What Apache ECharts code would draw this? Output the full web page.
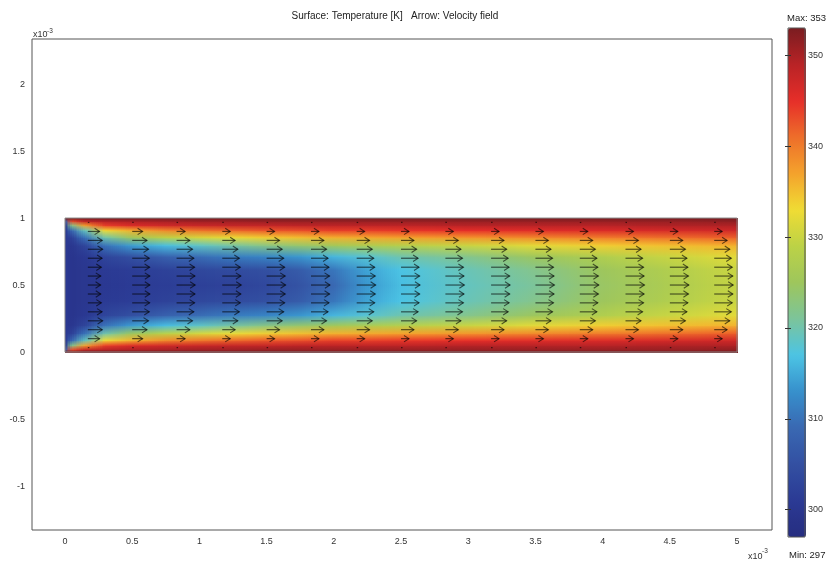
<!DOCTYPE html>
<html>
<head>
<meta charset="utf-8">
<script src="https://cdn.jsdelivr.net/npm/echarts@6/dist/echarts.min.js"></script>
<style>
  html, body { margin: 0; padding: 0; background: #fff; }
  #chart { width: 826px; height: 562px; }
</style>
</head>
<body>
<div id="chart"></div>
<script>
// axis ticks (x and y in units of 1e-3 m)
const xTicks = [0, 0.5, 1, 1.5, 2, 2.5, 3, 3.5, 4, 4.5, 5];
const yTicks = [-1, -0.5, 0, 0.5, 1, 1.5, 2];
const colorbarTicks = [300, 310, 320, 330, 340, 350];
const tMin = 297;
const tMax = 353;

const xStations = [0, 0.05, 0.15, 0.3, 0.5, 0.75, 1.0, 1.25, 1.5, 1.75, 2.0, 2.25, 2.5, 3.0, 3.5, 4.0, 4.5, 5.0];
const yStations = [0, 0.02, 0.05, 0.09, 0.14, 0.2, 0.28, 0.38, 0.5, 0.62, 0.72, 0.8, 0.86, 0.91, 0.95, 0.98, 1.0];

// temperature [K], one profile (bottom wall -> top wall) per x station
const temperatureProfiles = [
  [353, 308, 301, 300.5, 300.5, 300.5, 300.5, 300.5, 300.5, 300.5, 300.5, 300.5, 300.5, 300.5, 301, 308, 353],
  [353, 343, 322, 309, 302, 300, 299.5, 299.5, 299.5, 299.5, 299.5, 300, 302, 309, 322, 343, 353],
  [353, 348, 337, 319, 310, 303, 300.5, 300, 300, 300, 300.5, 303, 310, 319, 337, 348, 353],
  [353, 349, 344, 333, 320, 310, 303, 301, 300.5, 301, 303, 310, 320, 333, 344, 349, 353],
  [353, 349.5, 346, 336, 325, 314, 305, 301.5, 301, 301.5, 305, 314, 325, 336, 346, 349.5, 353],
  [353, 350, 347, 339, 329, 316.5, 308, 302.5, 301.5, 302.5, 308, 316.5, 329, 339, 347, 350, 353],
  [353, 350.5, 347.5, 340.5, 331, 318.5, 309.5, 303.5, 302, 303.5, 309.5, 318.5, 331, 340.5, 347.5, 350.5, 353],
  [353, 350.5, 348, 341.5, 332.5, 320.5, 311, 304, 302.5, 304, 311, 320.5, 332.5, 341.5, 348, 350.5, 353],
  [353, 351, 348, 342.5, 334, 322.5, 312, 305, 303.5, 305, 312, 322.5, 334, 342.5, 348, 351, 353],
  [353, 351, 348.5, 343, 335, 324, 313.5, 307, 305.5, 307, 313.5, 324, 335, 343, 348.5, 351, 353],
  [353, 351, 348.5, 344, 336, 325.5, 316, 310.5, 309, 310.5, 316, 325.5, 336, 344, 348.5, 351, 353],
  [353, 351, 348.5, 344, 336.5, 327, 318, 314.5, 313.5, 314.5, 318, 327, 336.5, 344, 348.5, 351, 353],
  [353, 351, 348.5, 344.5, 337, 328, 320, 317, 316.5, 317, 320, 328, 337, 344.5, 348.5, 351, 353],
  [353, 351, 349, 345, 338, 330, 322, 319.5, 319, 319.5, 322, 330, 338, 345, 349, 351, 353],
  [353, 351, 349, 345.5, 339, 332, 325, 322, 321, 322, 325, 332, 339, 345.5, 349, 351, 353],
  [353, 351, 349, 346, 340, 334, 327.5, 325, 324.5, 325, 327.5, 334, 340, 346, 349, 351, 353],
  [353, 351, 349.5, 346.5, 341, 335, 330, 327.5, 327, 327.5, 330, 335, 341, 346.5, 349.5, 351, 353],
  [353, 351.5, 349.5, 347, 342, 336, 332, 330, 329.5, 330, 332, 336, 342, 347, 349.5, 351.5, 353]
];

// velocity arrows: sample points and relative speed (bottom -> top)
const arrowX = [0.17, 0.5, 0.83, 1.17, 1.5, 1.83, 2.17, 2.5, 2.83, 3.17, 3.5, 3.83, 4.17, 4.5, 4.83];
const arrowY = [0.033, 0.1, 0.167, 0.233, 0.3, 0.367, 0.433, 0.5, 0.567, 0.633, 0.7, 0.767, 0.833, 0.9, 0.967];
const uInlet = [0.08, 0.62, 0.76, 0.78, 0.75, 0.71, 0.68, 0.67, 0.68, 0.71, 0.75, 0.78, 0.76, 0.62, 0.08];
const uSecond = [0.08, 0.55, 0.78, 0.86, 0.9, 0.92, 0.93, 0.93, 0.93, 0.92, 0.9, 0.86, 0.78, 0.55, 0.08];
const uThird = [0.08, 0.45, 0.7, 0.84, 0.91, 0.95, 0.97, 0.98, 0.97, 0.95, 0.91, 0.84, 0.7, 0.45, 0.08];
const uDeveloped = [0.08, 0.42, 0.68, 0.82, 0.9, 0.95, 0.98, 1.0, 0.98, 0.95, 0.9, 0.82, 0.68, 0.42, 0.08];
const arrowColumns = [uInlet, uSecond, uThird, uDeveloped, uDeveloped, uDeveloped, uDeveloped, uDeveloped,
  uDeveloped, uDeveloped, uDeveloped, uDeveloped, uDeveloped, uDeveloped, uDeveloped];
const arrowScale = 0.141; // data length of a unit arrow

const channelOutline = [[0, 0], [5, 0], [5, 1], [0, 1], [0, 0]];

const jetColors = ['#262d80', '#2b3a94', '#3350a2', '#3968b2', '#3790cc', '#4cc4e4', '#7cc49a',
  '#9ec65c', '#bcd246', '#f0dc34', '#f4a22c', '#ee6e2a', '#e62e29', '#b82326', '#7a1c20'];

const FONT = '"Liberation Sans", Arial, sans-serif';

const nY = yStations.length;
const cellData = [];
xStations.forEach((x, i) => {
  yStations.forEach((y, j) => {
    cellData.push([x, y, temperatureProfiles[i][j], i, j]);
  });
});

const arrowData = [];
arrowX.forEach((x, i) => {
  arrowY.forEach((y, j) => {
    arrowData.push([x, y, arrowColumns[i][j]]);
  });
});

// each node paints the cell up to its right/top neighbours, shaded between the four corner colours
function renderCell(params, api) {
  const i = api.value(3);
  const j = api.value(4);
  if (j >= nY - 1 || i >= xStations.length - 1) return null;
  const idx = params.dataIndexInside;
  const p0 = api.coord([xStations[i], yStations[j]]);
  const p1 = api.coord([xStations[i + 1], yStations[j + 1]]);
  const c00 = api.visual('color', idx);
  const c01 = api.visual('color', idx + 1);
  const c10 = api.visual('color', idx + nY);
  const c11 = api.visual('color', idx + nY + 1);
  const w = p1[0] - p0[0];
  const n = Math.max(1, Math.ceil(w / 2));
  const sw = w / n;
  const ya = Math.round(p1[1]);
  const yb = Math.round(p0[1]);
  const children = [];
  for (let k = 0; k < n; k++) {
    const t = (k + 0.5) / n;
    const xa = Math.round(p0[0] + k * sw);
    const xb = Math.round(p0[0] + (k + 1) * sw);
    if (xb <= xa) continue;
    children.push({
      type: 'rect',
      shape: { x: xa, y: ya, width: xb - xa + 1, height: yb - ya + 1 },
      style: {
        fill: new echarts.graphic.LinearGradient(0, 1, 0, 0, [
          { offset: 0, color: echarts.color.lerp(t, [c00, c10]) },
          { offset: 1, color: echarts.color.lerp(t, [c01, c11]) }
        ])
      }
    });
  }
  return { type: 'group', children: children };
}

function renderArrow(params, api) {
  const x = api.value(0);
  const y = api.value(1);
  const u = api.value(2);
  const p0 = api.coord([x, y]);
  const p1 = api.coord([x + u * arrowScale, y]);
  const stroke = 'rgba(0,0,0,0.6)';
  const children = [{
    type: 'line',
    shape: { x1: p0[0], y1: p0[1], x2: p1[0], y2: p1[1] },
    style: { stroke: stroke, lineWidth: 1.2 }
  }];
  if (p1[0] - p0[0] > 4) {
    children.push({
      type: 'polyline',
      shape: { points: [[p1[0] - 5, p1[1] - 3.2], [p1[0], p1[1]], [p1[0] - 5, p1[1] + 3.2]] },
      style: { stroke: stroke, lineWidth: 1.1, fill: null }
    });
  }
  return { type: 'group', children: children };
}

const chart = echarts.init(document.getElementById('chart'));

const labelStyle = { fontSize: 9, color: '#333', fontFamily: FONT };

chart.setOption({
  animation: false,
  backgroundColor: '#fff',
  grid: [
    { left: 32, top: 39, right: 54, bottom: 32, show: true, borderColor: '#555', borderWidth: 1, backgroundColor: '#fff' },
    { left: 788, top: 28, width: 18, height: 509, show: true, borderColor: '#555', borderWidth: 1, backgroundColor: 'transparent', z: 10 }
  ],
  xAxis: [
    {
      gridIndex: 0, type: 'value', min: -0.2455, max: 5.26,
      axisLine: { show: false }, axisTick: { show: false }, splitLine: { show: false },
      axisLabel: Object.assign({ customValues: xTicks, margin: 7 }, labelStyle)
    },
    { gridIndex: 1, type: 'value', min: 0, max: 1, show: false }
  ],
  yAxis: [
    {
      gridIndex: 0, type: 'value', min: -1.328, max: 2.336,
      axisLine: { show: false }, axisTick: { show: false }, splitLine: { show: false },
      axisLabel: Object.assign({ customValues: yTicks, margin: 7 }, labelStyle)
    },
    {
      gridIndex: 1, type: 'value', position: 'right', min: tMin, max: tMax, z: 10,
      axisLine: { show: false }, splitLine: { show: false },
      axisTick: { show: true, inside: true, length: 3, customValues: colorbarTicks, lineStyle: { color: '#333' } },
      axisLabel: Object.assign({ customValues: colorbarTicks, margin: 3 }, labelStyle)
    },
    {
      gridIndex: 1, type: 'value', position: 'left', min: tMin, max: tMax, z: 10,
      axisLine: { show: false }, splitLine: { show: false },
      axisTick: { show: true, inside: true, length: 3, customValues: colorbarTicks, lineStyle: { color: '#333' } },
      axisLabel: { show: false }
    }
  ],
  visualMap: {
    type: 'continuous',
    seriesIndex: 0,
    dimension: 2,
    min: tMin,
    max: tMax,
    left: 788,
    top: 28,
    itemWidth: 18,
    itemHeight: 509,
    padding: 0,
    calculable: false,
    hoverLink: false,
    inRange: { color: jetColors }
  },
  graphic: [
    { type: 'text', x: 395, y: 16, style: { text: 'Surface: Temperature [K]   Arrow: Velocity field', fontSize: 10, fontFamily: FONT, fill: '#222', align: 'center', verticalAlign: 'middle' } },
    { type: 'text', x: 33, y: 39, style: { text: 'x10', fontSize: 9, fontFamily: FONT, fill: '#333', verticalAlign: 'bottom' } },
    { type: 'text', x: 47, y: 35, style: { text: '-3', fontSize: 6.5, fontFamily: FONT, fill: '#333', verticalAlign: 'bottom' } },
    { type: 'text', x: 748, y: 557, style: { text: 'x10', fontSize: 9, fontFamily: FONT, fill: '#333', verticalAlign: 'middle' } },
    { type: 'text', x: 762, y: 551, style: { text: '-3', fontSize: 6.5, fontFamily: FONT, fill: '#333', verticalAlign: 'middle' } },
    { type: 'text', x: 787, y: 18.5, style: { text: 'Max: 353', fontSize: 9.5, fontFamily: FONT, fill: '#222', verticalAlign: 'middle' } },
    { type: 'text', x: 789, y: 555, style: { text: 'Min: 297', fontSize: 9.5, fontFamily: FONT, fill: '#222', verticalAlign: 'middle' } }
  ],
  series: [
    {
      name: 'Temperature',
      type: 'custom',
      xAxisIndex: 0, yAxisIndex: 0,
      renderItem: renderCell,
      encode: { x: 0, y: 1 },
      data: cellData,
      silent: true,
      z: 2
    },
    {
      name: 'Velocity field',
      type: 'custom',
      xAxisIndex: 0, yAxisIndex: 0,
      renderItem: renderArrow,
      encode: { x: 0, y: 1 },
      data: arrowData,
      silent: true,
      z: 3
    },
    {
      name: 'Channel',
      type: 'line',
      xAxisIndex: 0, yAxisIndex: 0,
      data: channelOutline,
      symbol: 'none',
      silent: true,
      lineStyle: { color: '#8a8a8a', width: 1 },
      z: 4
    }
  ]
});
</script>
</body>
</html>
